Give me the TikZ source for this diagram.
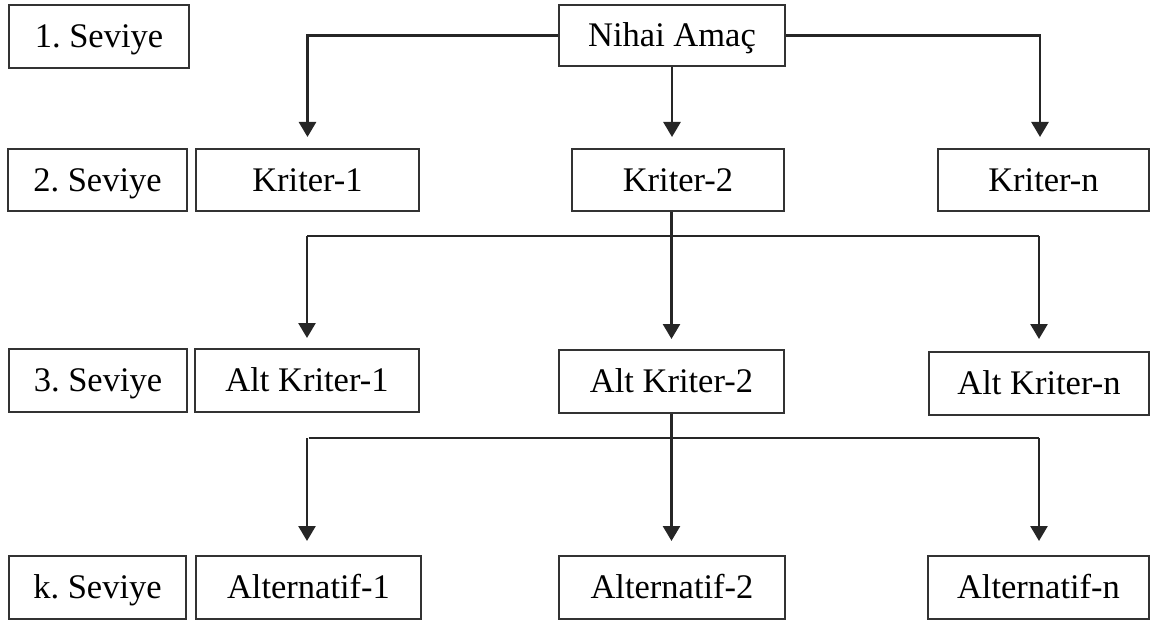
\documentclass[tikz,border=0pt]{standalone}
\usepackage{fontspec}
\setmainfont{Liberation Serif}
\usetikzlibrary{arrows.meta}
\begin{document}
\frenchspacing
\begin{tikzpicture}[x=1pt,y=-1pt,
  box/.style={draw=black!80, line width=2pt, rectangle, inner sep=0pt,
    text height=22.5pt, text depth=0pt,
    font=\fontsize{34.5pt}{40pt}\selectfont},
  ln/.style={draw=black!85, line width=2.6pt},
  arr/.style={ln, -{Triangle[width=17pt,length=15pt]}}]
\useasboundingbox (0,0) rectangle (1151,623);
% level labels
\node[box, minimum width=180pt, minimum height=63pt] (s1) at (99,36.5) {1. Seviye};
\node[box, minimum width=179pt, minimum height=62pt] (s2) at (97.5,180) {2. Seviye};
\node[box, minimum width=178pt, minimum height=63pt] (s3) at (98,380.5) {3. Seviye};
\node[box, minimum width=177pt, minimum height=63pt] (sk) at (97.5,587.5) {k. Seviye};
% level 1
\node[box, minimum width=226pt, minimum height=61pt] (nihai) at (672,35.5) {Nihai Amaç};
% level 2
\node[box, minimum width=223pt, minimum height=62pt] (k1) at (307.5,180) {Kriter-1};
\node[box, minimum width=212pt, minimum height=62pt] (k2) at (678,180) {Kriter-2};
\node[box, minimum width=211pt, minimum height=62pt] (kn) at (1043.5,180) {Kriter-n};
% level 3
\node[box, minimum width=224pt, minimum height=63pt] (ak1) at (307,380.5) {Alt Kriter-1};
\node[box, minimum width=225pt, minimum height=63pt] (ak2) at (671.5,381.5) {Alt Kriter-2};
\node[box, minimum width=220pt, minimum height=63pt] (akn) at (1039,383.5) {Alt Kriter-n};
% level k
\node[box, minimum width=225pt, minimum height=63pt] (a1) at (308.5,587.5) {Alternatif-1};
\node[box, minimum width=226pt, minimum height=63pt] (a2) at (672,587.5) {Alternatif-2};
\node[box, minimum width=221pt, minimum height=63pt] (an) at (1038.5,587.5) {Alternatif-n};
% connectors level 1 -> 2
\draw[arr, shorten >=11pt] (nihai.west) -| (k1.north);
\draw[arr, shorten >=11pt] (nihai.south) -- (nihai.south |- k2.north);
\draw[arr, shorten >=11pt] (nihai.east) -| ([xshift=-3.5pt]kn.north);
% level 2 -> 3
\coordinate (j2) at (671.5,236);
\draw[ln] (ak1.north |- j2) -- (akn.north |- j2);
\draw[arr, shorten >=10pt] (ak2.north |- k2.south) -- (ak2.north);
\draw[arr, shorten >=10pt] (j2 -| ak1.north) -- (ak1.north);
\draw[arr, shorten >=12pt] (j2 -| akn.north) -- (akn.north);
% level 3 -> k
\coordinate (j3) at (671.5,438);
\draw[ln] (a1.north |- j3) -- (an.north |- j3);
\draw[arr, shorten >=14pt] (ak2.south) -- (ak2.south |- a2.north);
\draw[arr, shorten >=14pt] (j3 -| ak1.north) -- (ak1.north |- a1.north);
\draw[arr, shorten >=14pt] (j3 -| akn.north) -- (akn.north |- an.north);
\end{tikzpicture}
\end{document}
